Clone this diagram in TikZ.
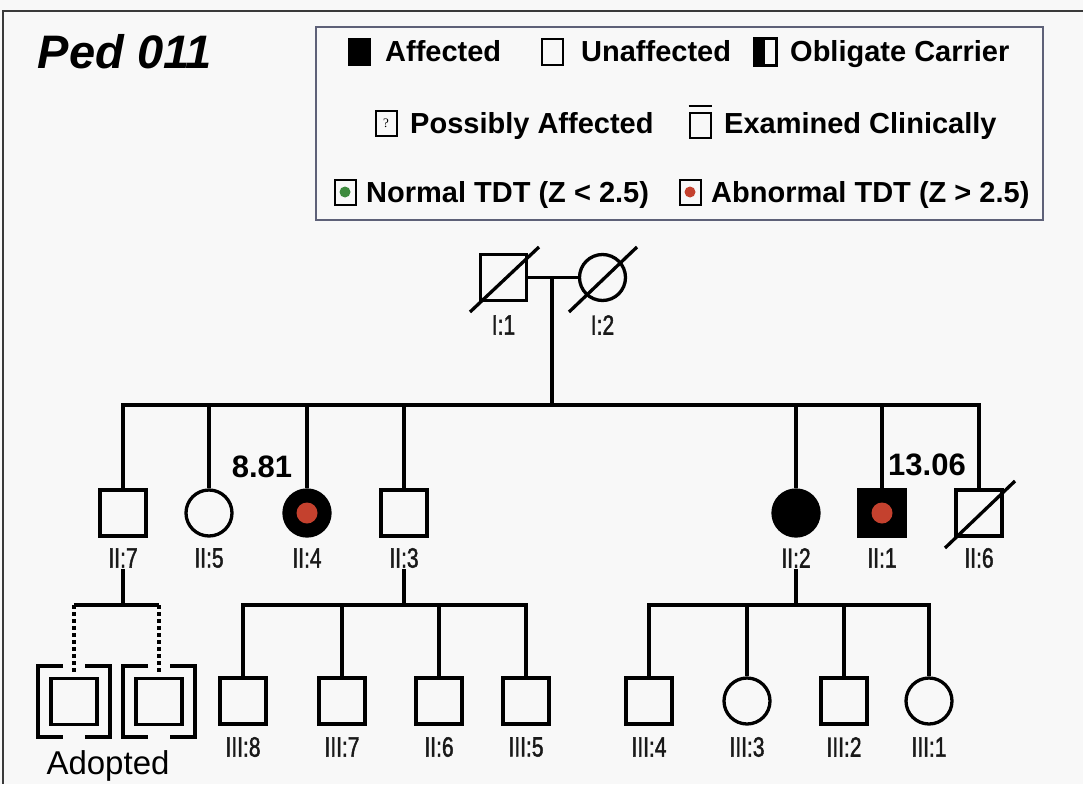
\documentclass[tikz,border=0pt]{standalone}
\usepackage{fontspec}
\setmainfont{Liberation Sans}
\newfontfamily\narrowf[FakeStretch=0.75,FakeBold=1.5]{Liberation Sans}
\newfontfamily\serifq{Liberation Serif}
\usetikzlibrary{calc}
\definecolor{bgc}{HTML}{F8F8F8}
\definecolor{framec}{HTML}{3A3A3A}
\definecolor{legc}{HTML}{5E6178}
\definecolor{reddot}{HTML}{C4412E}
\definecolor{greendot}{HTML}{3D8A3D}
\begin{document}
\begin{tikzpicture}[x=1pt,y=-1pt,
  male/.style={draw, rectangle, line width=3.3pt, minimum width=46pt, minimum height=46pt, inner sep=0pt},
  female/.style={draw, circle, line width=3.3pt, minimum size=46pt, inner sep=0pt},
  aff/.style={fill=black},
  unaff/.style={fill=bgc},
  lbl/.style={font=\narrowf\fontsize{28}{28}\selectfont, inner sep=1pt, text=black!90},
  score/.style={font=\bfseries\fontsize{31}{31}\selectfont, inner sep=0pt},
  conn/.style={line width=3.3pt},
  dotted conn/.style={line width=3.3pt, dash pattern=on 4pt off 3pt},
  slash/.style={line width=3.3pt},
  bracket/.style={line width=3.3pt},
  rdot/.style={circle, fill=reddot, minimum size=21pt, inner sep=0pt},
  legtext/.style={font=\bfseries\fontsize{29}{29}\selectfont, anchor=base west, inner sep=0pt},
  legsym/.style={draw, rectangle, line width=2pt, minimum width=21pt, minimum height=25pt, inner sep=0pt, fill=bgc},
]
% background and bounding box
\fill[bgc] (0,0) rectangle (1083,784);
\useasboundingbox (0,0) rectangle (1083,784);
% frame (top and left lines)
\coordinate (fTL) at (3,11);
\coordinate (fTR) at (1083,11);
\coordinate (fBL) at (3,784);
\draw[framec, line width=2pt] (fTR) -- (fTL) -- (fBL);

% title
\node[font=\bfseries\itshape\fontsize{47}{47}\selectfont, inner sep=0pt] (title) at (125,52) {Ped 011};

% legend box
\node[draw=legc, line width=2pt, fill=bgc, minimum width=727pt, minimum height=193pt, inner sep=0pt] (legend) at (679.5,123.5) {};
% row 1
\node[legsym, fill=black] (lsAff) at (359,52) {};
\node[legtext] (ltAff) at (385,62) {Affected};
\node[legsym] (lsUn) at (552,52) {};
\node[legtext] (ltUn) at (581,62) {Unaffected};
\node[legsym] (lsCar) at (765,52) {};
\fill[black] (lsCar.north west) rectangle (lsCar.south);
\draw[line width=2pt] (lsCar.north west) rectangle (lsCar.south east);
\node[legtext] (ltCar) at (790,62) {Obligate Carrier};
% row 2
\node[legsym, font=\serifq\fontsize{13}{13}\selectfont] (lsPos) at (386,123) {?};
\node[legtext] (ltPos) at (410,133) {Possibly Affected};
\node[legsym] (lsEx) at (700,125) {};
\coordinate (exL) at ($(lsEx.north west)+(0,-6)$);
\coordinate (exR) at ($(lsEx.north east)+(0,-6)$);
\draw[line width=2pt] (exL) -- (exR);
\node[legtext] (ltEx) at (724,133) {Examined Clinically};
% row 3
\node[legsym] (lsNorm) at (345,192) {};
\node[circle, fill=greendot, minimum size=11pt, inner sep=0pt] at (lsNorm) {};
\node[legtext] (ltNorm) at (366,202) {Normal TDT (Z < 2.5)};
\node[legsym] (lsAbn) at (690,192) {};
\node[circle, fill=reddot, minimum size=11pt, inner sep=0pt] at (lsAbn) {};
\node[legtext] (ltAbn) at (711,202) {Abnormal TDT (Z > 2.5)};

% ---------------- Generation I
\node[male, unaff] (I1) at (503.5,277.5) {};
\node[female, unaff] (I2) at (602.5,277.5) {};
\node[lbl] (lI1) at (503.5,325) {I:1};
\node[lbl] (lI2) at (602.5,325) {I:2};
\coordinate (d1a) at (470,312); \coordinate (d1b) at (539,247);
\coordinate (d2a) at (569,312); \coordinate (d2b) at (637,247);
\draw[slash] (d1a) -- (d1b);
\draw[slash] (d2a) -- (d2b);
\draw[conn] (I1.east) -- (I2.west);
\coordinate (m1) at (552,277.5);
\coordinate (s1) at (552,405);
\draw[conn] (m1) -- (s1);

% ---------------- Generation II
\node[male, unaff] (II7) at (123,513) {};
\node[female, unaff] (II5) at (209,513) {};
\node[female, aff] (II4) at (307,513) {};
\node[rdot] at (II4) {};
\node[male, unaff] (II3) at (404,513) {};
\node[female, aff] (II2) at (796,513) {};
\node[male, aff] (II1) at (882,513) {};
\node[rdot] at (II1) {};
\node[male, unaff] (II6) at (979,513) {};
\coordinate (d6a) at (945,548); \coordinate (d6b) at (1015,481);
\draw[slash] (d6a) -- (d6b);

\foreach \n/\t in {II7/II:7, II5/II:5, II4/II:4, II3/II:3, II2/II:2, II1/II:1, II6/II:6}
  \node[lbl] (l\n) at ($(\n)+(0,45)$) {\t};

\node[score] (sc4) at (262,467) {8.81};
\node[score] (sc1) at (927,465) {13.06};

% sibship line II
\draw[conn] (II7.north) |- (s1) -| (II6.north);
\foreach \n in {II5, II4, II3, II2, II1}
  \draw[conn] (\n.north) -- (\n.north |- s1);

% ---------------- Generation III
% II:7 adopted children
\node[male, unaff] (A1) at (74,701.5) {};
\node[male, unaff] (A2) at (159,701.5) {};
\foreach \a in {A1, A2} {
  \draw[bracket] ($(\a)+(-11,-35.5)$) -- ($(\a)+(-36,-35.5)$) -- ($(\a)+(-36,35.5)$) -- ($(\a)+(-11,35.5)$);
  \draw[bracket] ($(\a)+(11,-35.5)$) -- ($(\a)+(36,-35.5)$) -- ($(\a)+(36,35.5)$) -- ($(\a)+(11,35.5)$);
}
\coordinate (s7) at (123,605);
\draw[conn] (lII7.south) -- (s7);
\coordinate (s7L) at (74,605);
\coordinate (s7R) at (159,605);
\draw[conn] (s7L) -- (s7R);
\draw[dotted conn] (s7L) -- ($(A1.north)+(0,-3)$);
\draw[dotted conn] (s7R) -- ($(A2.north)+(0,-3)$);
\node[font=\fontsize{33}{33}\selectfont, inner sep=0pt] (adopted) at (108,766) {Adopted};

% II:3 children
\node[male, unaff] (III8) at (243,701) {};
\node[male, unaff] (III7) at (342,701) {};
\node[male, unaff] (II6b) at (439,701) {};
\node[male, unaff] (III5) at (526,701) {};
\coordinate (s3) at (404,605);
\draw[conn] (lII3.south) -- (s3);
\draw[conn] (III8.north) |- (s3) -| (III5.north);
\draw[conn] (III7.north) -- (III7.north |- s3);
\draw[conn] (II6b.north) -- (II6b.north |- s3);

% II:2 children
\node[male, unaff] (III4) at (649,701) {};
\node[female, unaff] (III3) at (747,701) {};
\node[male, unaff] (III2) at (844,701) {};
\node[female, unaff] (III1) at (929,701) {};
\coordinate (s2) at (796,605);
\draw[conn] (lII2.south) -- (s2);
\draw[conn] (III4.north) |- (s2) -| (III1.north);
\draw[conn] (III3.north) -- (III3.north |- s2);
\draw[conn] (III2.north) -- (III2.north |- s2);

\foreach \n/\t in {III8/III:8, III7/III:7, II6b/II:6, III5/III:5, III4/III:4, III3/III:3, III2/III:2, III1/III:1}
  \node[lbl] (l\n) at ($(\n)+(0,46)$) {\t};
\end{tikzpicture}
\end{document}
